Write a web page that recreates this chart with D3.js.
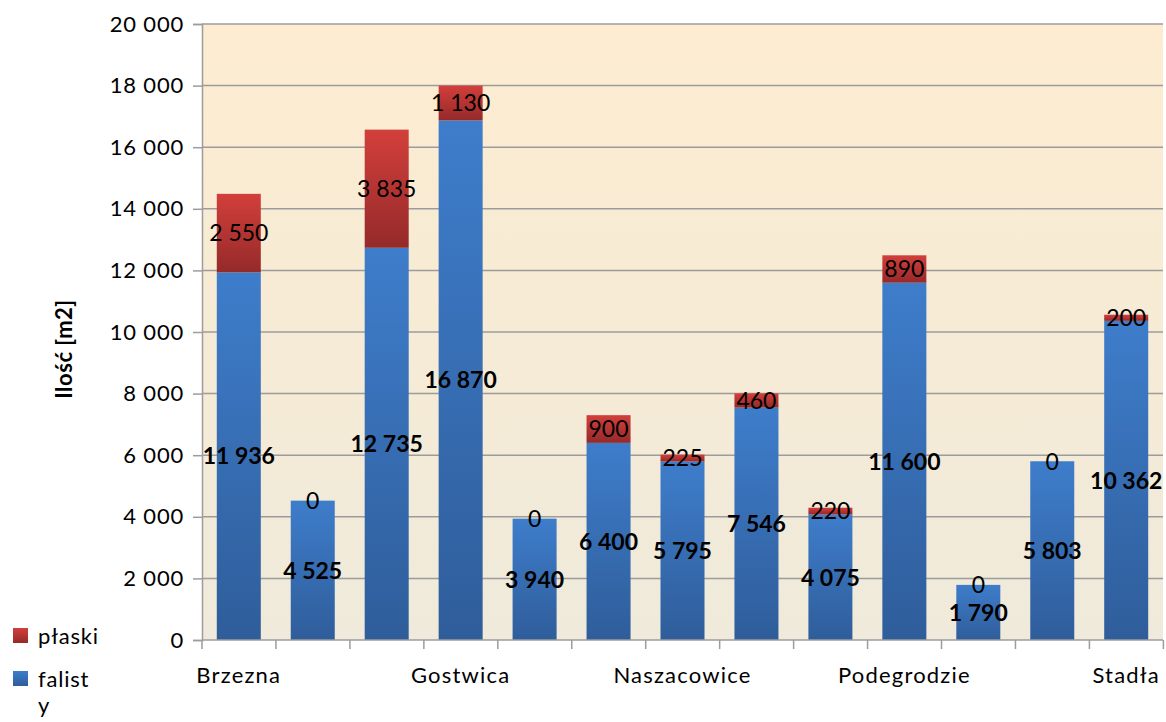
<!DOCTYPE html>
<html>
<head>
<meta charset="utf-8">
<script src="https://cdn.jsdelivr.net/npm/d3@7"></script>
<style>
  body { margin: 0; background: #fff; }
  svg { display: block; font-family: Lato, "Noto Sans", sans-serif; }
</style>
</head>
<body>
<svg id="chart" width="1166" height="722"></svg>
<script>
// villages (only every 3rd label is shown on the axis)
const villages = ["Brzezna", "Chochorowice", "Długołęka-Świerkla", "Gostwica", "Juraszowa", "Mokra Wieś",
  "Naszacowice", "Olszana", "Olszanka", "Podegrodzie", "Podrzecze", "Rogi", "Stadła"];
const falisty = [11936, 4525, 12735, 16870, 3940, 6400, 5795, 7546, 4075, 11600, 1790, 5803, 10362];
const plaski = [2550, 0, 3835, 1130, 0, 900, 225, 460, 220, 890, 0, 0, 200];
const yTicks = [0, 2000, 4000, 6000, 8000, 10000, 12000, 14000, 16000, 18000, 20000];

const svg = d3.select("#chart");
const m = { left: 202, right: 1163, top: 24, bottom: 640 };

const x = d3.scaleBand().domain(villages).range([m.left, m.right]).paddingInner(0.405).paddingOuter(0.2);
const y = d3.scaleLinear().domain([0, 20000]).range([m.bottom, m.top]);

const fmt = v => d3.format(",")(v).replace(/,/g, " ");

const defs = svg.append("defs");
const bg = defs.append("linearGradient").attr("id", "bg").attr("x1", 0).attr("y1", 0).attr("x2", 0).attr("y2", 1);
bg.append("stop").attr("offset", 0).attr("stop-color", "#fdecd0");
bg.append("stop").attr("offset", 1).attr("stop-color", "#efeadb");
const gb = defs.append("linearGradient").attr("id", "gBlue").attr("x1", 0).attr("y1", 0).attr("x2", 0).attr("y2", 1);
gb.append("stop").attr("offset", 0).attr("stop-color", "#3e7dcb");
gb.append("stop").attr("offset", 1).attr("stop-color", "#2f5d9a");
const gr = defs.append("linearGradient").attr("id", "gRed").attr("x1", 0).attr("y1", 0).attr("x2", 0).attr("y2", 1);
gr.append("stop").attr("offset", 0).attr("stop-color", "#d23f3b");
gr.append("stop").attr("offset", 1).attr("stop-color", "#952a2a");

// plot area background
svg.append("rect").attr("x", m.left).attr("y", m.top)
  .attr("width", m.right - m.left).attr("height", m.bottom - m.top).attr("fill", "url(#bg)");

// gridlines
svg.append("g").selectAll("line").data(yTicks.slice(1)).join("line")
  .attr("x1", m.left).attr("x2", m.right)
  .attr("y1", d => y(d)).attr("y2", d => y(d))
  .attr("stroke", "#9c9c9c").attr("stroke-width", 1.5);

// bars
const bars = svg.append("g");
bars.selectAll("rect.f").data(villages).join("rect").attr("class", "f")
  .attr("x", d => x(d)).attr("width", x.bandwidth())
  .attr("y", (d, i) => y(falisty[i])).attr("height", (d, i) => y(0) - y(falisty[i]))
  .attr("fill", "url(#gBlue)");
bars.selectAll("rect.p").data(villages).join("rect").attr("class", "p")
  .attr("x", d => x(d)).attr("width", x.bandwidth())
  .attr("y", (d, i) => y(falisty[i] + plaski[i])).attr("height", (d, i) => y(falisty[i]) - y(falisty[i] + plaski[i]))
  .attr("fill", "url(#gRed)");

// y axis
const yAxis = svg.append("g").attr("transform", `translate(${m.left},0)`)
  .call(d3.axisLeft(y).tickValues(yTicks).tickFormat(fmt).tickSizeOuter(0).tickSize(9).tickPadding(9));
yAxis.select(".domain").attr("stroke", "#9c9c9c").attr("stroke-width", 1.5);
yAxis.selectAll(".tick line").attr("stroke", "#9c9c9c").attr("stroke-width", 1.5);
yAxis.selectAll("text").attr("font-size", 22).attr("letter-spacing", 0.8).attr("fill", "#000")
  .attr("font-family", "Lato, 'Noto Sans', sans-serif");

// x axis
const xAxis = svg.append("g").attr("transform", `translate(0,${m.bottom})`);
xAxis.append("line").attr("x1", m.left).attr("x2", m.right).attr("y1", 0).attr("y2", 0)
  .attr("stroke", "#9c9c9c").attr("stroke-width", 1.5);
const step = x.step();
xAxis.selectAll("line.t").data(d3.range(villages.length + 1)).join("line").attr("class", "t")
  .attr("x1", i => m.left + i * step).attr("x2", i => m.left + i * step)
  .attr("y1", 0).attr("y2", 9).attr("stroke", "#9c9c9c").attr("stroke-width", 1.5);
xAxis.selectAll("text").data(villages.filter((d, i) => i % 3 === 0)).join("text")
  .attr("x", d => x(d) + x.bandwidth() / 2).attr("y", 43)
  .attr("text-anchor", "middle").attr("font-size", 22).attr("letter-spacing", 1.2).text(d => d);

// axis title
svg.append("text").attr("transform", "translate(72,349) rotate(-90)")
  .attr("text-anchor", "middle").attr("font-size", 22).attr("letter-spacing", 0.5)
  .attr("font-weight", "bold").text("Ilość [m2]");

// data labels
const labels = svg.append("g").attr("text-anchor", "middle").attr("font-size", 23);
labels.selectAll("text.f").data(villages).join("text").attr("class", "f")
  .attr("x", d => x(d) + x.bandwidth() / 2)
  .attr("y", (d, i) => y(falisty[i] / 2)).attr("dy", "0.36em")
  .attr("font-weight", "bold").text((d, i) => fmt(falisty[i]));
labels.selectAll("text.p").data(villages).join("text").attr("class", "p")
  .attr("x", d => x(d) + x.bandwidth() / 2)
  .attr("y", (d, i) => y(falisty[i] + plaski[i] / 2)).attr("dy", "0.36em")
  .text((d, i) => fmt(plaski[i]));

// legend
const legend = svg.append("g").attr("font-size", 22).attr("letter-spacing", 0.8);
legend.append("rect").attr("x", 13).attr("y", 628).attr("width", 15).attr("height", 15).attr("fill", "url(#gRed)");
legend.append("text").attr("x", 38).attr("y", 644).text("płaski");
legend.append("rect").attr("x", 13).attr("y", 671).attr("width", 15).attr("height", 15).attr("fill", "url(#gBlue)");
legend.append("text").attr("x", 38).attr("y", 687).text("falist");
legend.append("text").attr("x", 38).attr("y", 713).text("y");
</script>
</body>
</html>
